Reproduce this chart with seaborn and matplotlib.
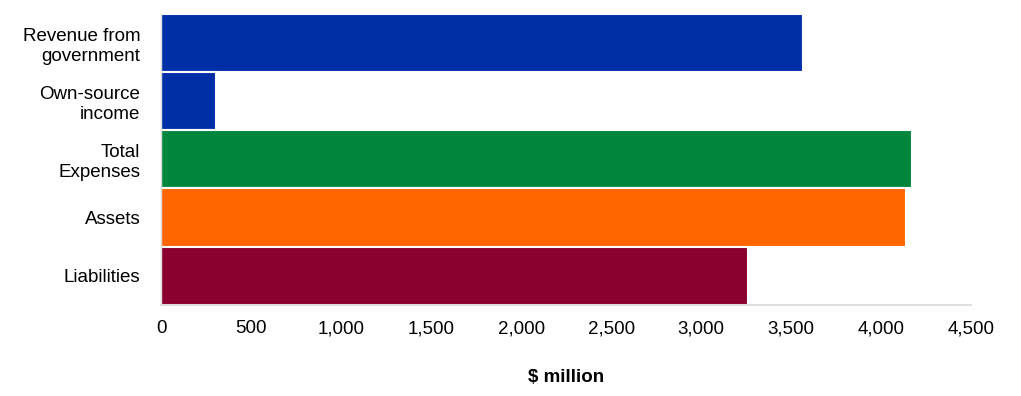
import matplotlib
matplotlib.use("Agg")
import matplotlib.pyplot as plt
import seaborn as sns
import pandas as pd
from matplotlib.ticker import FuncFormatter

categories = ["Revenue from\ngovernment", "Own-source\nincome", "Total\nExpenses", "Assets", "Liabilities"]
values = [3564, 303, 4170, 4138, 3258]
colors = ["#002EA6", "#002EA6", "#00873D", "#FF6600", "#8A002E"]

sns.set_theme(style="white")
plt.rcParams["font.family"] = ["Liberation Sans", "DejaVu Sans"]

df = pd.DataFrame({"category": categories, "value": values})

fig = plt.figure(figsize=(10.21, 3.96), dpi=100)
ax = fig.add_axes([0.158, 0.230, 0.793, 0.735])
sns.barplot(data=df, y="category", x="value", hue="category", palette=colors,
            order=categories, hue_order=categories, width=1.0, dodge=False,
            saturation=1, legend=False, edgecolor="white", linewidth=1.5, ax=ax)

ax.set_xlim(0, 4500)
ax.set_xticks(range(0, 4501, 500))
ax.xaxis.set_major_formatter(FuncFormatter(lambda v, p: f"{int(v):,}"))
ax.set_ylabel("")
ax.set_xlabel("$ million", fontsize=13.5, fontweight="bold", color="black", labelpad=23)
ax.tick_params(axis="both", length=0, labelsize=13.5, colors="black")
ax.tick_params(axis="x", pad=11)
ax.tick_params(axis="y", pad=15)
for s in ["top", "right"]:
    ax.spines[s].set_visible(False)
ax.spines["bottom"].set_color("#D9D9D9")
ax.spines["left"].set_color("#D9D9D9")
ax.spines["bottom"].set_linewidth(1.2)
ax.spines["left"].set_linewidth(1.0)
for lbl in ax.get_yticklabels():
    lbl.set_horizontalalignment("right")
    lbl.set_multialignment("right")

fig.savefig("out.png", dpi=100)
